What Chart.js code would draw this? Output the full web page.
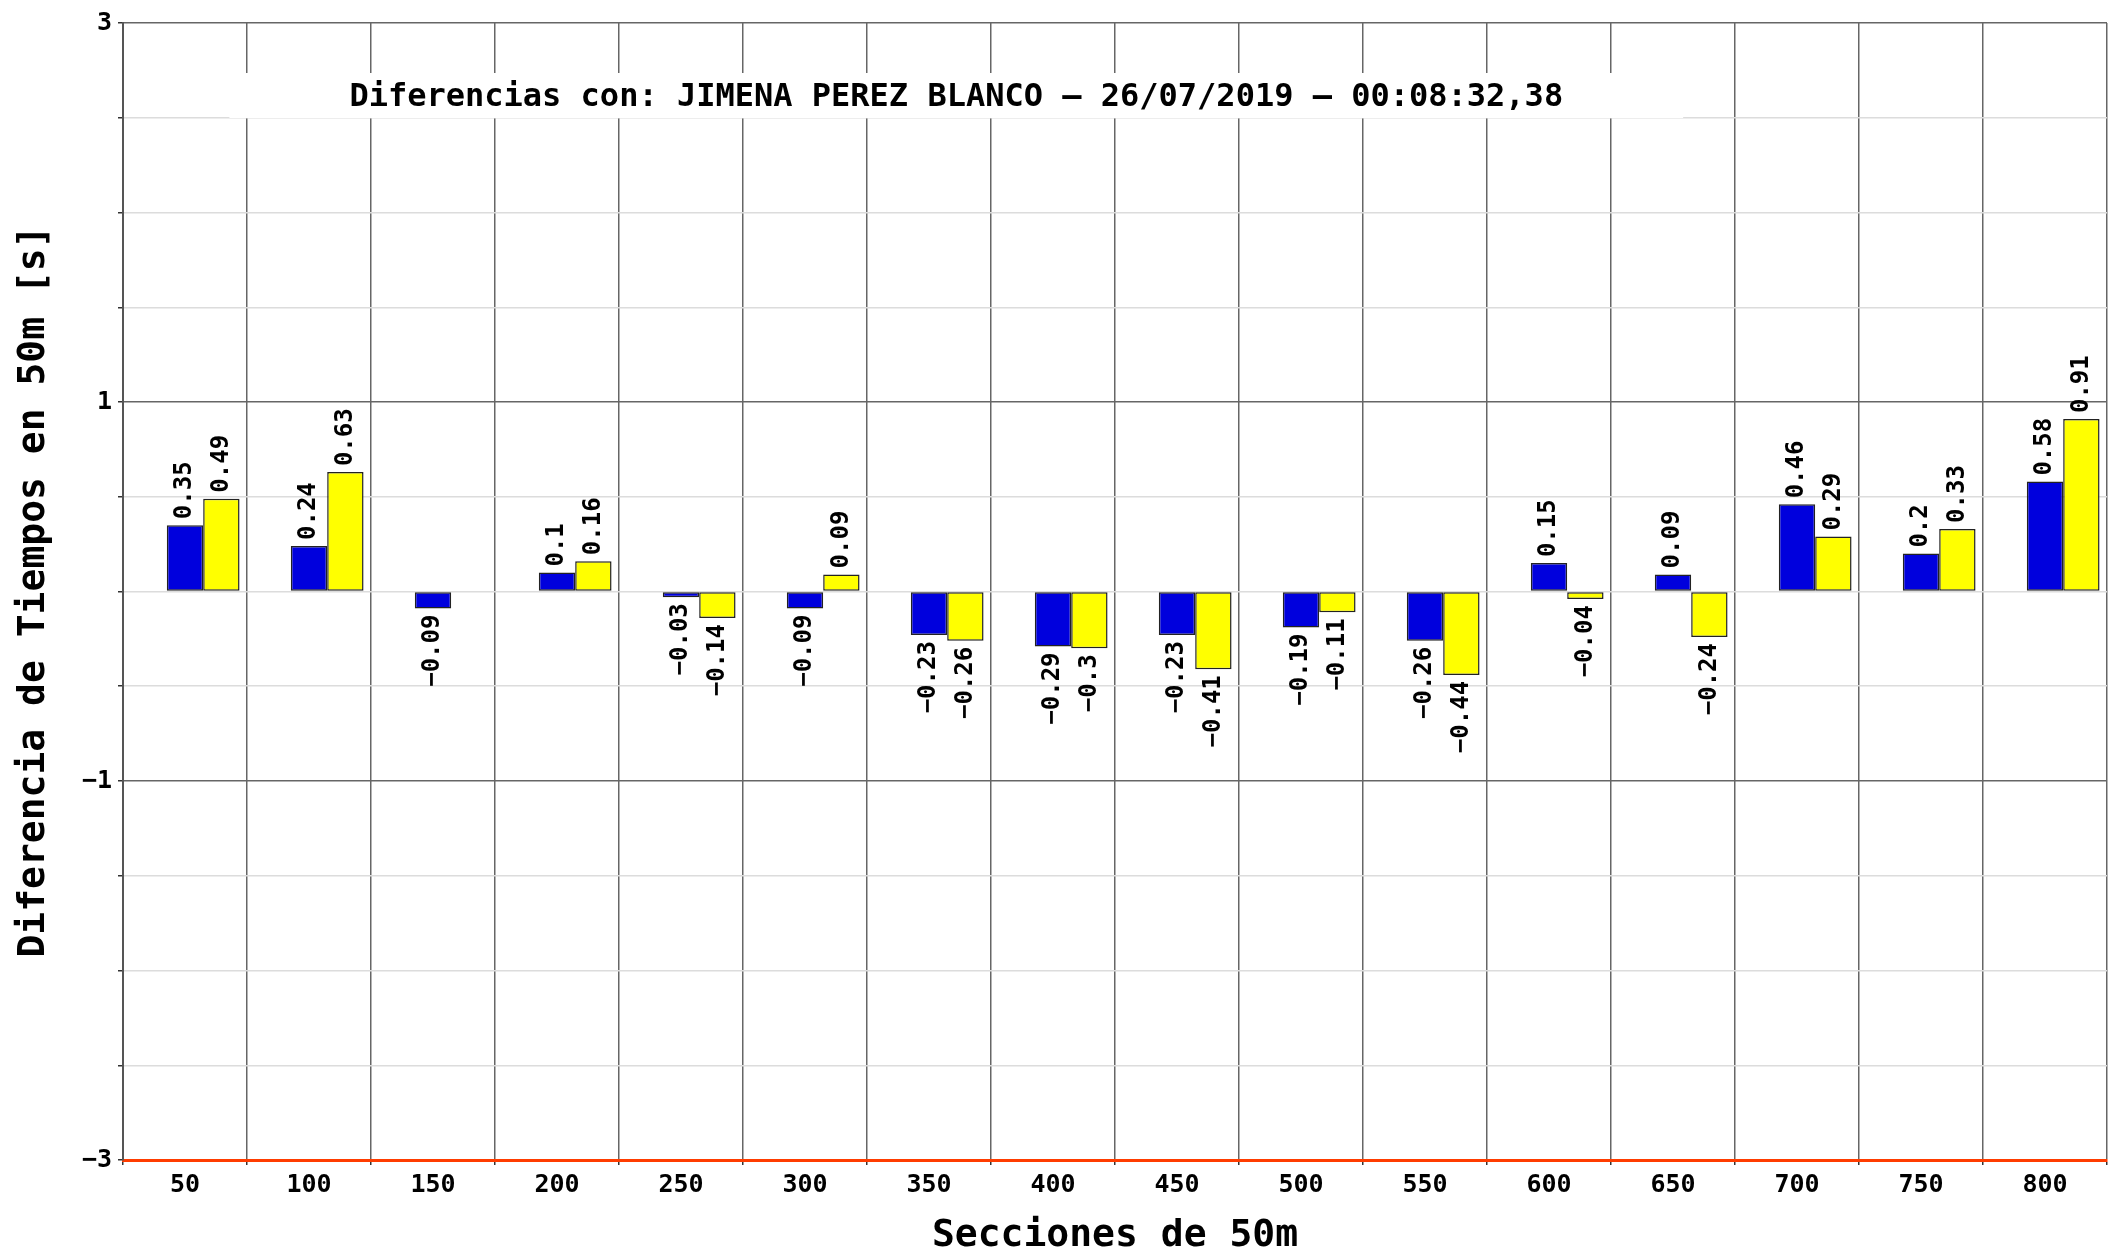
<!DOCTYPE html>
<html>
<head>
<meta charset="utf-8">
<script src="https://cdn.jsdelivr.net/npm/chart.js@4"></script>
<style>
  html, body { margin:0; padding:0; background:#fff; }
  canvas { display:block; }
</style>
</head>
<body>
<canvas id="diffChart" width="2123" height="1258"></canvas>
<script>
const sections = ["50","100","150","200","250","300","350","400","450","500","550","600","650","700","750","800"];
const diffBlue   = [0.35, 0.24, -0.09, 0.1, -0.03, -0.09, -0.23, -0.29, -0.23, -0.19, -0.26, 0.15, 0.09, 0.46, 0.2, 0.58];
const diffYellow = [0.49, 0.63, null, 0.16, -0.14, 0.09, -0.26, -0.3, -0.41, -0.11, -0.44, -0.04, -0.24, 0.29, 0.33, 0.91];
const spacer     = sections.map(() => null);   // empty slot so the pair sits right of centre
const yLabels    = [3, 1, -1, -3];
const titleText  = "Diferencias con: JIMENA PEREZ BLANCO \u2013 26/07/2019 \u2013 00:08:32,38";

const MONO = "'DejaVu Sans Mono', monospace";
const C = { blue:"#0000dd", yellow:"#ffff00", edge:"#222", major:"#666", minor:"#dcdcdc", red:"#ff3c00" };

const fmt = v => String(v).replace("-", "\u2212");

// box + text title sitting inside the plot area
const boxTitle = {
  id:"boxTitle",
  beforeDatasetsDraw(chart) {
    const { ctx, chartArea:a } = chart;
    ctx.save();
    ctx.font = "bold 32px " + MONO;
    const w = ctx.measureText(titleText).width;
    const cx = a.left + a.width * 0.42, cy = a.top + 72;
    ctx.fillStyle = "#fff";
    ctx.fillRect(cx - w/2 - 120, cy - 22, w + 240, 45);
    ctx.fillStyle = "#000";
    ctx.textAlign = "center"; ctx.textBaseline = "middle";
    ctx.fillText(titleText, cx, cy + 3);
    ctx.restore();
  }
};

// rotated value labels at the end of every bar
const barLabels = {
  id:"barLabels",
  afterDatasetsDraw(chart) {
    const { ctx } = chart;
    ctx.save();
    ctx.font = "bold 24px " + MONO;
    ctx.fillStyle = "#000";
    ctx.textBaseline = "middle";
    chart.data.datasets.forEach((ds, i) => {
      if (!ds.label) return;
      chart.getDatasetMeta(i).data.forEach((el, j) => {
        const v = ds.data[j];
        if (v === null || v === undefined) return;
        ctx.save();
        if (v >= 0) { ctx.translate(el.x, el.y - 6); ctx.textAlign = "left"; }
        else        { ctx.translate(el.x, el.y + 6); ctx.textAlign = "right"; }
        ctx.rotate(-Math.PI / 2);
        ctx.fillText(fmt(v), 0, 0);
        ctx.restore();
      });
    });
    ctx.restore();
  }
};

new Chart(document.getElementById("diffChart"), {
  type:"bar",
  data:{
    labels:sections,
    datasets:[
      { data:spacer },
      { label:"A", data:diffBlue,   backgroundColor:C.blue,   borderColor:C.edge, borderWidth:1.5, borderSkipped:false },
      { label:"B", data:diffYellow, backgroundColor:C.yellow, borderColor:C.edge, borderWidth:1.5, borderSkipped:false },
    ]
  },
  options:{
    responsive:false, animation:false, devicePixelRatio:1,
    categoryPercentage:0.88, barPercentage:1,
    layout:{ padding:{ top:23, right:16, left:0, bottom:0 } },
    plugins:{ legend:{display:false}, tooltip:{enabled:false}, title:{display:false} },
    scales:{
      x:{
        grid:{ color:C.major, lineWidth:1.5, tickLength:5, tickColor:"#333" },
        border:{ color:C.red, width:3 },
        ticks:{ color:"#000", font:{ family:MONO, size:25, weight:"bold" }, padding:5, maxRotation:0 },
        title:{ display:true, text:"Secciones de 50m", color:"#000",
                font:{ family:MONO, size:38, weight:"bold", lineHeight:1 }, padding:{ top:0, bottom:3 } },
        afterFit(s) { s.height = 98; }
      },
      y:{
        min:-3, max:3,
        grid:{
          color:c => { const v = c.tick.value; if (v === -3) return "rgba(0,0,0,0)"; return yLabels.includes(v) ? C.major : C.minor; },
          lineWidth:1.5, tickLength:5, tickColor:"#333"
        },
        border:{ color:"#555", width:2 },
        ticks:{ stepSize:0.5, color:"#000", font:{ family:MONO, size:25, weight:"bold" }, padding:6,
                autoSkip:false,
                callback:v => yLabels.includes(v) ? fmt(v) : "" },
        title:{ display:true, text:"Diferencia de Tiempos en 50m [s]", color:"#000",
                font:{ family:MONO, size:38, weight:"bold", lineHeight:1 }, padding:{ top:15, bottom:0 } },
        afterFit(s) { s.width = 123; }
      }
    }
  },
  plugins:[boxTitle, barLabels]
});
</script>
</body>
</html>
